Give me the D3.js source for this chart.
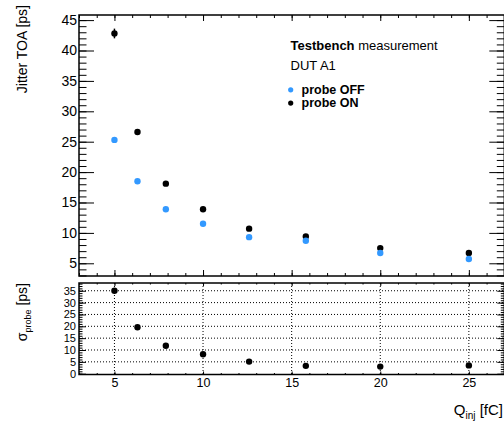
<!DOCTYPE html>
<html><head><meta charset="utf-8">
<script src="https://cdn.jsdelivr.net/npm/d3@7"></script>
<style>
body{margin:0;background:#fff;}
svg{display:block;font-family:"Liberation Sans",Arial,Helvetica,sans-serif;}
</style></head>
<body>
<svg id="c" width="504" height="425"></svg>
<script>
// ---- data ----
const qinj = [5, 6.3, 7.9, 10, 12.6, 15.8, 20, 25];
const jitterOff = [25.3, 18.5, 13.9, 11.5, 9.3, 8.7, 6.7, 5.7];
const jitterOn = [42.8, 26.6, 18.1, 13.9, 10.7, 9.4, 7.5, 6.7];
const jitterOnErr = [0.8, 0.2, 0.1, 0.1, 0.1, 0.1, 0.1, 0.1];
const sigmaProbe = [35.0, 19.6, 11.8, 8.2, 5.1, 3.3, 3.0, 3.5];
const xTicks = [5, 10, 15, 20, 25];
const yTopTicks = [5, 10, 15, 20, 25, 30, 35, 40, 45];
const yBotTicks = [0, 5, 10, 15, 20, 25, 30, 35];
const seriesNames = ["probe OFF", "probe ON"];
const seriesColors = ["#3399ff", "#000000"];

const svg = d3.select("#c");
const L = 79, R = 504.3;
const x = d3.scaleLinear().domain([3, 27]).range([L, R]);
const top1 = 15, bot1 = 276;
const top2 = 283, bot2 = 374.5;
const yT = d3.scaleLinear().domain([2.91, 45.84]).range([bot1, top1]);
const yB = d3.scaleLinear().domain([-0.34, 38.27]).range([bot2, top2]);
const minorX = d3.range(3, 28, 1);
const minorYT = d3.range(3, 46, 1);
const minorYB = d3.range(0, 39, 1);

function styleAxis(g){
  g.select(".domain").remove();
  g.selectAll("line").attr("stroke","#000").attr("stroke-width",1);
}
// ---- top panel ----
const gT = svg.append("g");
// minor y ticks left & right
gT.append("g").attr("transform",`translate(${L},0)`)
  .call(d3.axisLeft(yT).tickValues(minorYT).tickSize(-7.5).tickFormat("")).call(styleAxis);
gT.append("g").attr("transform",`translate(${R},0)`)
  .call(d3.axisRight(yT).tickValues(minorYT).tickSize(-7.5).tickFormat("")).call(styleAxis);
gT.append("g").attr("transform",`translate(${L},0)`)
  .call(d3.axisLeft(yT).tickValues(yTopTicks).tickSize(-15).tickPadding(2).tickFormat(d3.format("d")))
  .call(styleAxis).call(g=>g.selectAll("text").attr("font-size",14).attr("fill","#000").attr("font-family","Liberation Sans, Arial, sans-serif"));
gT.append("g").attr("transform",`translate(${R},0)`)
  .call(d3.axisRight(yT).tickValues(yTopTicks).tickSize(-15).tickFormat("")).call(styleAxis);
// x ticks bottom & top of top panel
gT.append("g").attr("transform",`translate(0,${bot1})`)
  .call(d3.axisBottom(x).tickValues(minorX).tickSize(-3).tickFormat("")).call(styleAxis);
gT.append("g").attr("transform",`translate(0,${bot1})`)
  .call(d3.axisBottom(x).tickValues(xTicks).tickSize(-6).tickFormat("")).call(styleAxis);
gT.append("g").attr("transform",`translate(0,${top1})`)
  .call(d3.axisTop(x).tickValues(minorX).tickSize(-3).tickFormat("")).call(styleAxis);
gT.append("g").attr("transform",`translate(0,${top1})`)
  .call(d3.axisTop(x).tickValues(xTicks).tickSize(-6).tickFormat("")).call(styleAxis);
// frame
gT.append("rect").attr("x",L).attr("y",top1).attr("width",R-L).attr("height",bot1-top1)
  .attr("fill","none").attr("stroke","#000").attr("stroke-width",1.5);

// error bars
gT.append("g").selectAll("line").data(qinj).join("line")
  .attr("x1",(d)=>x(d)).attr("x2",(d)=>x(d))
  .attr("y1",(d,i)=>yT(jitterOn[i]-jitterOnErr[i])).attr("y2",(d,i)=>yT(jitterOn[i]+jitterOnErr[i]))
  .attr("stroke","#000").attr("stroke-width",1.5);
// points
gT.append("g").selectAll("circle").data(qinj).join("circle")
  .attr("cx",d=>x(d)).attr("cy",(d,i)=>yT(jitterOn[i])).attr("r",3.2).attr("fill",seriesColors[1]);
gT.append("g").selectAll("circle").data(qinj).join("circle")
  .attr("cx",d=>x(d)).attr("cy",(d,i)=>yT(jitterOff[i])).attr("r",3.2).attr("fill",seriesColors[0]);

// legend / labels
const lt = svg.append("text").attr("x",290.5).attr("y",50).attr("font-size",13).attr("fill","#000");
lt.append("tspan").attr("font-weight","bold").text("Testbench");
lt.append("tspan").text(" measurement");
svg.append("text").attr("x",290.5).attr("y",70).attr("font-size",13).text("DUT A1");
seriesNames.forEach((n,i)=>{
  const yy = 89.8 + i*13.3;
  svg.append("circle").attr("cx",290.7).attr("cy",yy).attr("r",2.6).attr("fill",seriesColors[i]);
  svg.append("text").attr("x",301.5).attr("y",yy+3.8).attr("font-size",12.5).attr("font-weight","bold").text(n);
});

// y title top
svg.append("text").attr("transform","translate(26.5,5) rotate(-90)").attr("text-anchor","end")
  .attr("font-size",14).text("Jitter TOA [ps]");

// ---- bottom panel ----
const gB = svg.append("g");
// grid
gB.append("g").selectAll("line").data(yBotTicks.filter(d=>d>0)).join("line")
  .attr("x1",L).attr("x2",R).attr("y1",d=>yB(d)).attr("y2",d=>yB(d))
  .attr("stroke","#000").attr("stroke-width",1).attr("stroke-dasharray","1,2");
gB.append("g").selectAll("line").data(xTicks).join("line")
  .attr("x1",d=>x(d)).attr("x2",d=>x(d)).attr("y1",top2).attr("y2",bot2)
  .attr("stroke","#000").attr("stroke-width",1).attr("stroke-dasharray","1,2");
gB.append("g").attr("transform",`translate(${L},0)`)
  .call(d3.axisLeft(yB).tickValues(minorYB).tickSize(-3.5).tickFormat("")).call(styleAxis);
gB.append("g").attr("transform",`translate(${R},0)`)
  .call(d3.axisRight(yB).tickValues(minorYB).tickSize(-3.5).tickFormat("")).call(styleAxis);
gB.append("g").attr("transform",`translate(${L},0)`)
  .call(d3.axisLeft(yB).tickValues(yBotTicks).tickSize(-7).tickPadding(3).tickFormat(d3.format("d")))
  .call(styleAxis).call(g=>g.selectAll("text").attr("font-size",11).attr("fill","#000").attr("font-family","Liberation Sans, Arial, sans-serif"));
gB.append("g").attr("transform",`translate(${R},0)`)
  .call(d3.axisRight(yB).tickValues(yBotTicks).tickSize(-7).tickFormat("")).call(styleAxis);
gB.append("g").attr("transform",`translate(0,${top2})`)
  .call(d3.axisTop(x).tickValues(minorX).tickSize(-1.5).tickFormat("")).call(styleAxis);
gB.append("g").attr("transform",`translate(0,${top2})`)
  .call(d3.axisTop(x).tickValues(xTicks).tickSize(-3).tickFormat("")).call(styleAxis);
gB.append("g").attr("transform",`translate(0,${bot2})`)
  .call(d3.axisBottom(x).tickValues(minorX).tickSize(-1.5).tickFormat("")).call(styleAxis);
const xa = gB.append("g").attr("transform",`translate(0,${bot2})`)
  .call(d3.axisBottom(x).tickValues(xTicks).tickSize(-3).tickPadding(4).tickFormat(d3.format("d")))
  .call(styleAxis).call(g=>g.selectAll("text").attr("font-size",12.5).attr("fill","#000").attr("font-family","Liberation Sans, Arial, sans-serif"));
gB.append("rect").attr("x",L).attr("y",top2).attr("width",R-L).attr("height",bot2-top2)
  .attr("fill","none").attr("stroke","#000").attr("stroke-width",1.5);
gB.append("g").selectAll("circle").data(qinj).join("circle")
  .attr("cx",d=>x(d)).attr("cy",(d,i)=>yB(sigmaProbe[i])).attr("r",3.2).attr("fill","#000");

// y title bottom
const yt2 = svg.append("text").attr("transform","translate(27,283) rotate(-90)").attr("text-anchor","end").attr("font-size",14);
yt2.append("tspan").text("σ");
yt2.append("tspan").attr("font-size",9).attr("dy",4).text("probe");
yt2.append("tspan").attr("dy",-4).text(" [ps]");

// x title
const xt = svg.append("text").attr("x",503).attr("y",415).attr("text-anchor","end").attr("font-size",15);
xt.append("tspan").text("Q");
xt.append("tspan").attr("font-size",10).attr("dy",4).text("inj");
xt.append("tspan").attr("dy",-4).text(" [fC]");
</script>
</body></html>
